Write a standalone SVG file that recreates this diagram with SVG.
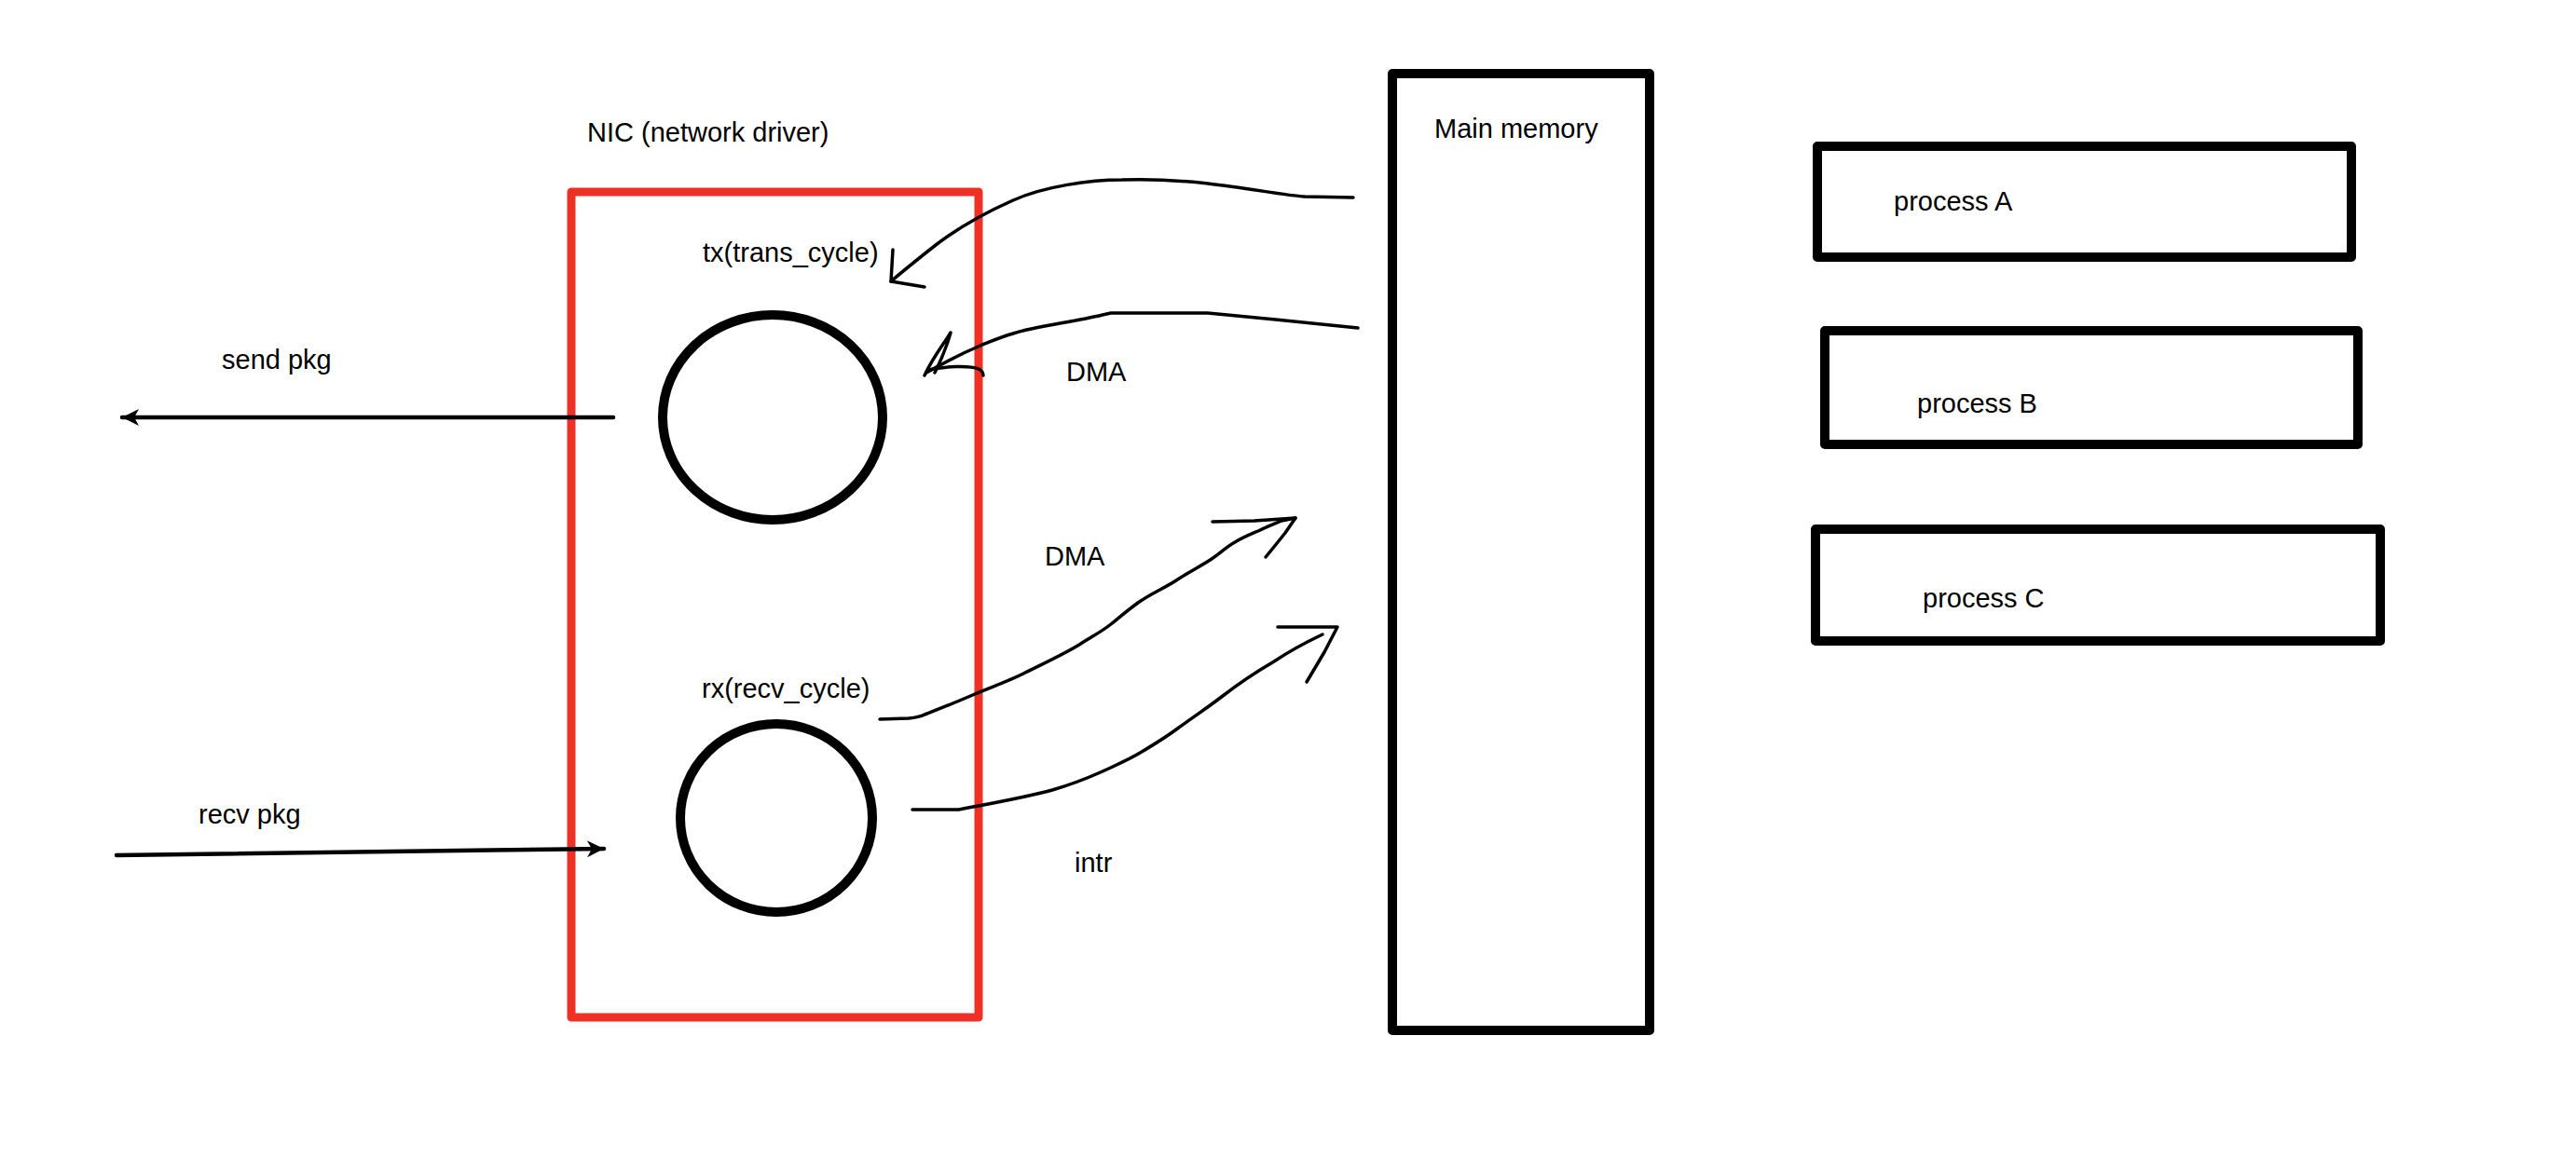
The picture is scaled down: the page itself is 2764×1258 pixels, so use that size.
<svg xmlns="http://www.w3.org/2000/svg" width="2764" height="1258" viewBox="0 0 2764 1258">
<style>
text{font-family:"Liberation Sans",Arial,sans-serif;font-size:29px;fill:#000}
.box{fill:none;stroke:#000;stroke-width:10;stroke-linejoin:round}
.nic{fill:none;stroke:#EE3124;stroke-width:9;stroke-linejoin:round}
.ring{fill:none;stroke:#000;stroke-width:10}
.ink{fill:none;stroke:#000;stroke-width:3.5;stroke-linecap:round;stroke-linejoin:round}
.pkg{fill:none;stroke:#000;stroke-width:4.5;stroke-linecap:round}
</style>
<defs>
<marker id="head" viewBox="-20 -10 22 20" refX="0" refY="0" markerWidth="22" markerHeight="20" markerUnits="userSpaceOnUse" orient="auto">
<path d="M0,0 L-18,-9 L-13,0 L-18,9 Z" fill="#000"/>
</marker>
</defs>
<rect width="2764" height="1258" fill="#fff"/>
<g id="nic">
<rect class="nic" x="613" y="206" width="437" height="886"/>
<text x="630" y="152">NIC (network driver)</text>
</g>
<g id="tx">
<ellipse class="ring" cx="829" cy="448" rx="118" ry="110"/>
<text x="754" y="281">tx(trans_cycle)</text>
</g>
<g id="rx">
<ellipse class="ring" cx="833" cy="878" rx="103" ry="101"/>
<text x="753" y="749">rx(recv_cycle)</text>
</g>
<g id="memory">
<rect class="box" x="1494" y="79" width="276" height="1027"/>
<text x="1539" y="148">Main memory</text>
</g>
<g id="processA">
<rect class="box" x="1950" y="157" width="573" height="119"/>
<text x="2032" y="226">process A</text>
</g>
<g id="processB">
<rect class="box" x="1958" y="355" width="572" height="122"/>
<text x="2057" y="443">process B</text>
</g>
<g id="processC">
<rect class="box" x="1948" y="568" width="606" height="120"/>
<text x="2063" y="652">process C</text>
</g>
<g id="labels">
<text x="238" y="396">send pkg</text>
<text x="213" y="884">recv pkg</text>
<text x="1144" y="409">DMA</text>
<text x="1121" y="607">DMA</text>
<text x="1153" y="936">intr</text>
</g>
<g id="connectors">
<line class="pkg" x1="658" y1="448" x2="131" y2="448" marker-end="url(#head)"/>
<line class="pkg" x1="125" y1="918" x2="648" y2="911" marker-end="url(#head)"/>
<path class="ink" d="M1452,212 L1400,211 C1380,210 1340,202 1296,197 C1260,193 1230,192 1204,193 C1170,193 1120,200 1087,215 C1060,227 1030,243 1004,263 C985,278 970,290 956,302"/>
<path class="ink" d="M958,268 L956,302 L992,308"/>
<path class="ink" d="M1457,352 C1420,348 1340,340 1296,336 C1260,336 1210,336 1192,336 L1183,338 C1150,346 1110,350 1087,358 C1070,363 1060,368 1054,370 C1035,378 1015,388 994,400"/>
<path class="ink" d="M992,403 C1000,385 1012,370 1020,357 C1015,375 1008,390 1003,400"/>
<path class="ink" d="M996,397 C1015,393 1040,392 1050,396 C1054,398 1055,400 1055,403"/>
<path class="ink" d="M944,772 L975,771 C985,770 990,768 992,767 C1010,760 1030,752 1046,745 C1065,737 1085,730 1100,722 C1120,712 1140,703 1158,692 C1172,683 1182,678 1192,670 C1203,661 1210,655 1221,647 C1235,637 1250,631 1262,623 C1277,613 1288,608 1300,600 C1310,593 1316,587 1325,582 C1335,576 1343,573 1350,570 C1360,565 1368,562 1375,559 L1390,556"/>
<path class="ink" d="M1301,560 L1346,559 L1390,556 L1379,572 L1371,582 L1358,598"/>
<path class="ink" d="M979,869 L1029,869 C1060,863 1100,856 1129,848 C1150,842 1165,836 1183,828 C1200,820 1212,815 1225,807 C1240,798 1250,792 1262,783 C1280,770 1295,760 1312,747 C1330,733 1350,720 1367,710 C1385,698 1400,690 1419,681"/>
<path class="ink" d="M1371,673 L1435,673 L1421,700 L1402,732"/>
</g>
</svg>
